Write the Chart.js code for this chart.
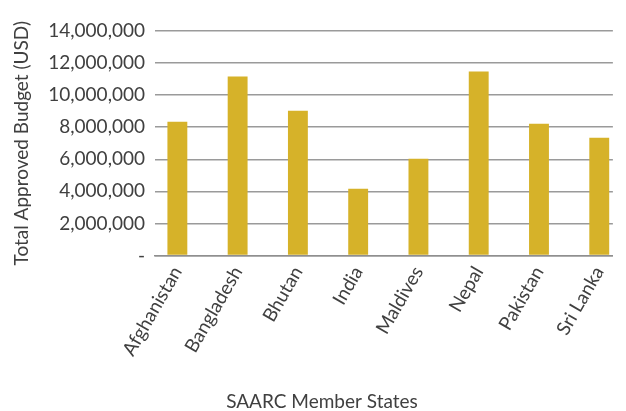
<!DOCTYPE html>
<html>
<head>
<meta charset="utf-8">
<script src="https://cdn.jsdelivr.net/npm/chart.js@4"></script>
<style>
  html, body { margin: 0; padding: 0; background: #fff; overflow: hidden; }
  #wrap { width: 626px; height: 411px; position: relative; }
</style>
</head>
<body>
<div id="wrap"><canvas id="c" width="626" height="411"></canvas></div>
<script>
const categories = ["Afghanistan", "Bangladesh", "Bhutan", "India", "Maldives", "Nepal", "Pakistan", "Sri Lanka"];
const budgets = [8340000, 11160000, 9030000, 4160000, 6030000, 11470000, 8220000, 7340000];
const yTicks = [0, 2000000, 4000000, 6000000, 8000000, 10000000, 12000000, 14000000];
const yTitle = "Total Approved Budget (USD)";
const xTitle = "SAARC Member States";

const textColor = "#404040";
const fontFamily = "Lato, 'Open Sans', sans-serif";
const fontSize = 19;

new Chart(document.getElementById("c"), {
  type: "bar",
  data: {
    datasets: [{
      data: budgets.map((v, i) => ({ x: i, y: v })),
      backgroundColor: "#D6B229",
      borderWidth: 0,
      categoryPercentage: 1,
      barPercentage: 0.33
    }]
  },
  options: {
    responsive: false,
    animation: false,
    devicePixelRatio: 1,
    layout: { padding: { left: 18, right: 0, top: 31, bottom: 0 } },
    plugins: {
      legend: { display: false },
      tooltip: { enabled: false },
      title: {
        display: true,
        position: "bottom",
        text: xTitle,
        color: textColor,
        font: { family: fontFamily, size: fontSize, weight: "normal", lineHeight: 1.0 },
        padding: { top: 0, bottom: 0 }
      }
    },
    scales: {
      x: {
        type: "linear",
        offset: false,
        min: -0.371,
        max: 7.226,
        afterFit: s => { s.height = 136.5; },
        grid: { display: false, drawTicks: false },
        border: { display: true, color: "#8f8f8f", width: 1.5 },
        ticks: {
          stepSize: 1,
          includeBounds: false,
          autoSkip: false,
          minRotation: 60,
          maxRotation: 60,
          padding: 7,
          color: textColor,
          font: { family: fontFamily, size: fontSize },
          callback: v => Number.isInteger(v) && v >= 0 && v < categories.length ? categories[v] : ""
        }
      },
      y: {
        min: 0,
        max: 14000000,
        afterFit: s => { s.width = 137; },
        afterBuildTicks: s => { s.ticks = yTicks.map(v => ({ value: v })); },
        grid: { color: "#9a9a9a", lineWidth: 1.5, drawTicks: false },
        border: { display: false },
        ticks: {
          padding: 10,
          color: textColor,
          font: { family: fontFamily, size: fontSize },
          callback: v => v === 0 ? "-" : v.toLocaleString("en-US")
        },
        title: {
          display: true,
          text: yTitle,
          color: textColor,
          font: { family: fontFamily, size: fontSize, lineHeight: 0.2 },
          padding: { top: 2, bottom: 0 }
        }
      }
    }
  }
});
</script>
</body>
</html>
